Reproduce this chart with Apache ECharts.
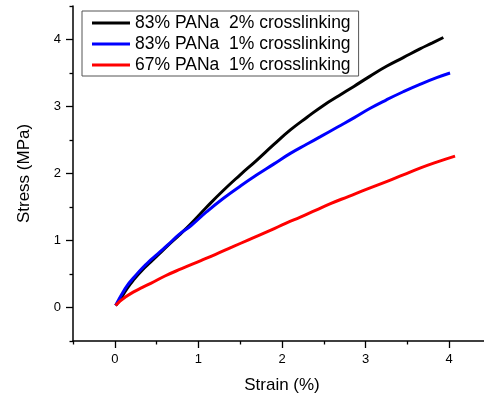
<!DOCTYPE html>
<html><head><meta charset="utf-8">
<script src="https://cdn.jsdelivr.net/npm/echarts@6/dist/echarts.min.js"></script>
<style>html,body{margin:0;padding:0;background:#fff}#c{width:484px;height:398px}</style>
</head><body><div id="c"></div>
<script>
const seriesNames = ['83% PANa  2% crosslinking', '83% PANa  1% crosslinking', '67% PANa  1% crosslinking'];
const black2pct = [[0.01,0.03],[0.07,0.13],[0.15,0.29],[0.23,0.42],[0.33,0.56],[0.43,0.68],[0.53,0.8],[0.63,0.92],[0.77,1.08],[0.91,1.25],[1.1,1.5],[1.3,1.75],[1.5,1.98],[1.7,2.2],[1.9,2.43],[2.1,2.65],[2.3,2.84],[2.5,3.02],[2.68,3.16],[2.86,3.3],[3.05,3.45],[3.25,3.6],[3.45,3.73],[3.65,3.86],[3.8,3.95],[3.93,4.03]];
const blue1pct = [[0.01,0.03],[0.04,0.1],[0.08,0.19],[0.15,0.33],[0.23,0.45],[0.33,0.59],[0.43,0.71],[0.53,0.82],[0.63,0.93],[0.77,1.09],[0.91,1.22],[1.1,1.43],[1.3,1.63],[1.5,1.81],[1.7,1.98],[1.9,2.14],[2.1,2.3],[2.3,2.44],[2.46,2.55],[2.66,2.69],[2.86,2.83],[3.05,2.97],[3.25,3.1],[3.45,3.22],[3.65,3.33],[3.85,3.43],[4.01,3.5]];
const red67pct = [[0.01,0.03],[0.05,0.08],[0.12,0.15],[0.22,0.23],[0.33,0.3],[0.43,0.36],[0.6,0.47],[0.8,0.58],[1.03,0.7],[1.2,0.79],[1.4,0.9],[1.6,1.01],[1.86,1.15],[2.05,1.26],[2.22,1.35],[2.4,1.45],[2.58,1.55],[2.8,1.66],[3.0,1.76],[3.25,1.88],[3.45,1.98],[3.65,2.08],[3.85,2.17],[4.07,2.26]];
const seriesData = [black2pct, blue1pct, red67pct];
const colors = ['#000000', '#0000ff', '#ff0000'];
const majorTicks = [0, 1, 2, 3, 4];
const minorTicks = [-0.5, 0.5, 1.5, 2.5, 3.5, 4.5];

const FONT = 'Liberation Sans, Arial, sans-serif';
function mainAxis(extra) {
  return Object.assign({
    type: 'value', min: -0.5, max: 4.5, gridIndex: 0,
    axisLine: {show: true, onZero: false, lineStyle: {color: '#000', width: 1.5}},
    axisTick: {show: true, inside: false, length: 7, customValues: majorTicks, lineStyle: {color: '#000', width: 1.3}},
    splitLine: {show: false},
    axisLabel: {color: '#000', fontSize: 13, fontFamily: FONT, margin: 12, customValues: majorTicks},
    nameLocation: 'middle',
    nameTextStyle: {color: '#000', fontSize: 17, fontFamily: FONT}
  }, extra);
}
function minorAxis(extra) {
  return Object.assign({
    type: 'value', min: -0.5, max: 4.5, gridIndex: 0,
    axisLine: {show: false, onZero: false},
    axisTick: {show: true, inside: false, length: 3.5, customValues: minorTicks, lineStyle: {color: '#000', width: 1.3}},
    splitLine: {show: false},
    axisLabel: {show: false}
  }, extra);
}
const chart = echarts.init(document.getElementById('c'));
chart.setOption({
  animation: false,
  grid: {left: 73, right: -7, top: 6, bottom: 57, containLabel: false, outerBoundsMode: 'none'},
  xAxis: [
    mainAxis({position: 'bottom', name: 'Strain (%)', nameGap: 36}),
    minorAxis({position: 'bottom', offset: 0})
  ],
  yAxis: [
    mainAxis({position: 'left', name: 'Stress (MPa)', nameGap: 40}),
    minorAxis({position: 'left', offset: 0})
  ],
  legend: {
    left: 82, top: 11, orient: 'vertical', itemWidth: 38, itemHeight: 3, itemGap: 3, itemStyle: {borderWidth: 0},
    borderColor: '#555', borderWidth: 1, padding: [3, 8, 2, 10],
    textStyle: {color: '#000', fontSize: 17.5, fontFamily: FONT, lineHeight: 18},
    icon: 'rect',
    data: seriesNames.map((n, i) => ({name: n, itemStyle: {color: colors[i]}}))
  },
  series: seriesNames.map((n, i) => ({
    name: n, type: 'line', data: seriesData[i], showSymbol: false, smooth: true,
    xAxisIndex: 0, yAxisIndex: 0,
    lineStyle: {color: colors[i], width: 3}, itemStyle: {color: colors[i]}
  }))
});
</script></body></html>
